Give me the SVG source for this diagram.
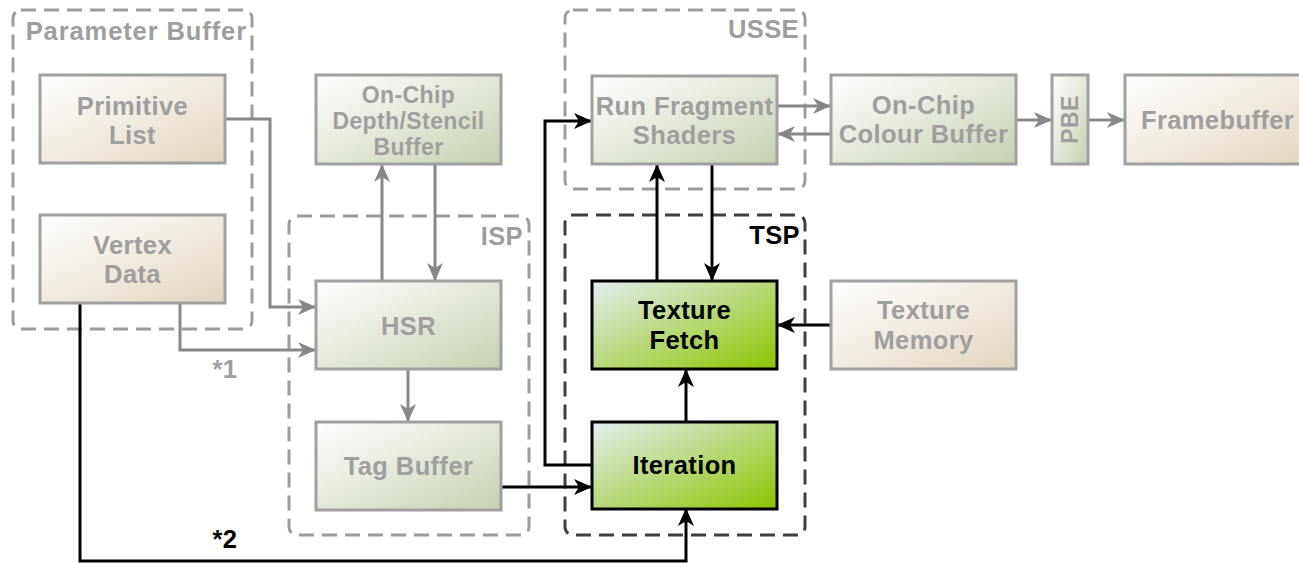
<svg xmlns="http://www.w3.org/2000/svg" width="1299" height="563" viewBox="0 0 1299 563">
  <style>
    .grp { fill: none; stroke: #9c9c9c; stroke-width: 3; stroke-dasharray: 15 8; }
    .grp-dark { fill: none; stroke: #404040; stroke-width: 3; stroke-dasharray: 15 8; }
    .box { stroke: #a0a0a0; stroke-width: 3; }
    .box-dark { stroke: #000; stroke-width: 3; }
    .tan { fill: url(#gTan); }
    .sage { fill: url(#gSage); }
    .lime { fill: url(#gLime); }
    text { font-family: "Liberation Sans", Arial, sans-serif; font-weight: bold; font-size: 25.5px; letter-spacing: 0.4px; text-anchor: middle; }
    .small { font-size: 23px; }
    .lbl { fill: #9e9e9e; }
    .lbl-dark { fill: #000; }
    .grp-lbl { fill: #9e9e9e; text-anchor: end; }
    .grp-lbl-dark { fill: #000; text-anchor: end; }
    .conn { fill: none; stroke: #888; stroke-width: 3; marker-end: url(#arrGray); }
    .conn-dark { fill: none; stroke: #000; stroke-width: 3; marker-end: url(#arrBlack); }
  </style>
  <defs>
    <linearGradient id="gTan" x1="0" y1="0" x2="1" y2="1">
      <stop offset="0" stop-color="#ffffff"/>
      <stop offset="1" stop-color="#e2d5c0"/>
    </linearGradient>
    <linearGradient id="gSage" x1="0" y1="0" x2="1" y2="1">
      <stop offset="0" stop-color="#ffffff"/>
      <stop offset="1" stop-color="#c6d1b2"/>
    </linearGradient>
    <linearGradient id="gLime" x1="0" y1="0" x2="1" y2="1">
      <stop offset="0" stop-color="#e4edf2"/>
      <stop offset="1" stop-color="#8cc400"/>
    </linearGradient>
    <marker id="arrGray" markerUnits="userSpaceOnUse" markerWidth="20" markerHeight="16" refX="18" refY="8" orient="auto" overflow="visible">
      <path d="M0,0 L18,8 L0,16 L5,8 Z" fill="#888"/>
    </marker>
    <marker id="arrBlack" markerUnits="userSpaceOnUse" markerWidth="20" markerHeight="16" refX="18" refY="8" orient="auto" overflow="visible">
      <path d="M0,0 L18,8 L0,16 L5,8 Z" fill="#000"/>
    </marker>
  </defs>

  <rect width="1299" height="563" fill="#fff"/>

  <!-- grouping frames -->
  <g id="parameter-buffer">
    <rect class="grp" x="13" y="10" width="239" height="319" rx="8"/>
    <text class="grp-lbl" x="247" y="40" style="letter-spacing:0.9px">Parameter Buffer</text>
  </g>
  <g id="isp">
    <rect class="grp" x="289" y="216" width="240" height="319" rx="8"/>
    <text class="grp-lbl" x="523" y="245">ISP</text>
  </g>
  <g id="usse">
    <rect class="grp" x="565" y="10" width="240" height="179" rx="8"/>
    <text class="grp-lbl" x="799" y="38">USSE</text>
  </g>
  <g id="tsp">
    <rect class="grp-dark" x="565" y="215" width="240" height="320" rx="8"/>
    <text class="grp-lbl-dark" x="800" y="244">TSP</text>
  </g>

  <!-- connectors -->
  <g id="connectors">
    <path class="conn" d="M225,119 H270 V307 H316"/>
    <path class="conn" d="M180,303 V350 H316"/>
    <path class="conn" d="M382,281 V164"/>
    <path class="conn" d="M435,164 V281"/>
    <path class="conn" d="M408,369 V422"/>
    <path class="conn" d="M777,106 H831"/>
    <path class="conn" d="M831,134 H777"/>
    <path class="conn" d="M1016,120 H1052"/>
    <path class="conn" d="M1088,120 H1125"/>
    <path class="conn-dark" d="M592,465 H545 V121 H592"/>
    <path class="conn-dark" d="M501,487 H592"/>
    <path class="conn-dark" d="M686,422 V369"/>
    <path class="conn-dark" d="M657,281 V164"/>
    <path class="conn-dark" d="M712,164 V281"/>
    <path class="conn-dark" d="M831,325 H777"/>
    <path class="conn-dark" d="M80,303 V561 H686 V508"/>
    <text class="lbl" x="225" y="378">*1</text>
    <text class="lbl-dark" x="225" y="548">*2</text>
  </g>

  <!-- blocks -->
  <g id="primitive-list">
    <rect class="box tan" x="40" y="75" width="185" height="88"/>
    <text class="lbl" x="132.5" y="115">Primitive</text>
    <text class="lbl" x="132.5" y="144">List</text>
  </g>
  <g id="vertex-data">
    <rect class="box tan" x="40" y="215" width="185" height="88"/>
    <text class="lbl" x="132.5" y="254">Vertex</text>
    <text class="lbl" x="132.5" y="283">Data</text>
  </g>
  <g id="depth-stencil-buffer">
    <rect class="box sage" x="316" y="75" width="185" height="89"/>
    <text class="lbl small" x="408.5" y="103">On-Chip</text>
    <text class="lbl small" x="408.5" y="129">Depth/Stencil</text>
    <text class="lbl small" x="408.5" y="155">Buffer</text>
  </g>
  <g id="hsr">
    <rect class="box sage" x="316" y="281" width="185" height="88"/>
    <text class="lbl" x="408.5" y="335">HSR</text>
  </g>
  <g id="tag-buffer">
    <rect class="box sage" x="316" y="422" width="185" height="88"/>
    <text class="lbl" x="408.5" y="475">Tag Buffer</text>
  </g>
  <g id="run-fragment-shaders">
    <rect class="box sage" x="592" y="76" width="185" height="88"/>
    <text class="lbl" x="684.5" y="115">Run Fragment</text>
    <text class="lbl" x="684.5" y="144">Shaders</text>
  </g>
  <g id="colour-buffer">
    <rect class="box sage" x="831" y="75" width="185" height="89"/>
    <text class="lbl" x="923.5" y="114">On-Chip</text>
    <text class="lbl" x="923.5" y="143">Colour Buffer</text>
  </g>
  <g id="pbe">
    <rect class="box sage" x="1052" y="75" width="36" height="89"/>
    <text class="lbl small" x="0" y="0" transform="translate(1078,119.5) rotate(-90)">PBE</text>
  </g>
  <g id="framebuffer">
    <rect class="box tan" x="1125" y="75" width="185" height="89"/>
    <text class="lbl" x="1217.5" y="129">Framebuffer</text>
  </g>
  <g id="texture-fetch">
    <rect class="box-dark lime" x="592" y="281" width="185" height="88"/>
    <text class="lbl-dark" x="684.5" y="319">Texture</text>
    <text class="lbl-dark" x="684.5" y="349">Fetch</text>
  </g>
  <g id="texture-memory">
    <rect class="box tan" x="831" y="281" width="185" height="88"/>
    <text class="lbl" x="923.5" y="319">Texture</text>
    <text class="lbl" x="923.5" y="349">Memory</text>
  </g>
  <g id="iteration">
    <rect class="box-dark lime" x="592" y="422" width="185" height="87"/>
    <text class="lbl-dark" x="684.5" y="474">Iteration</text>
  </g>
</svg>
